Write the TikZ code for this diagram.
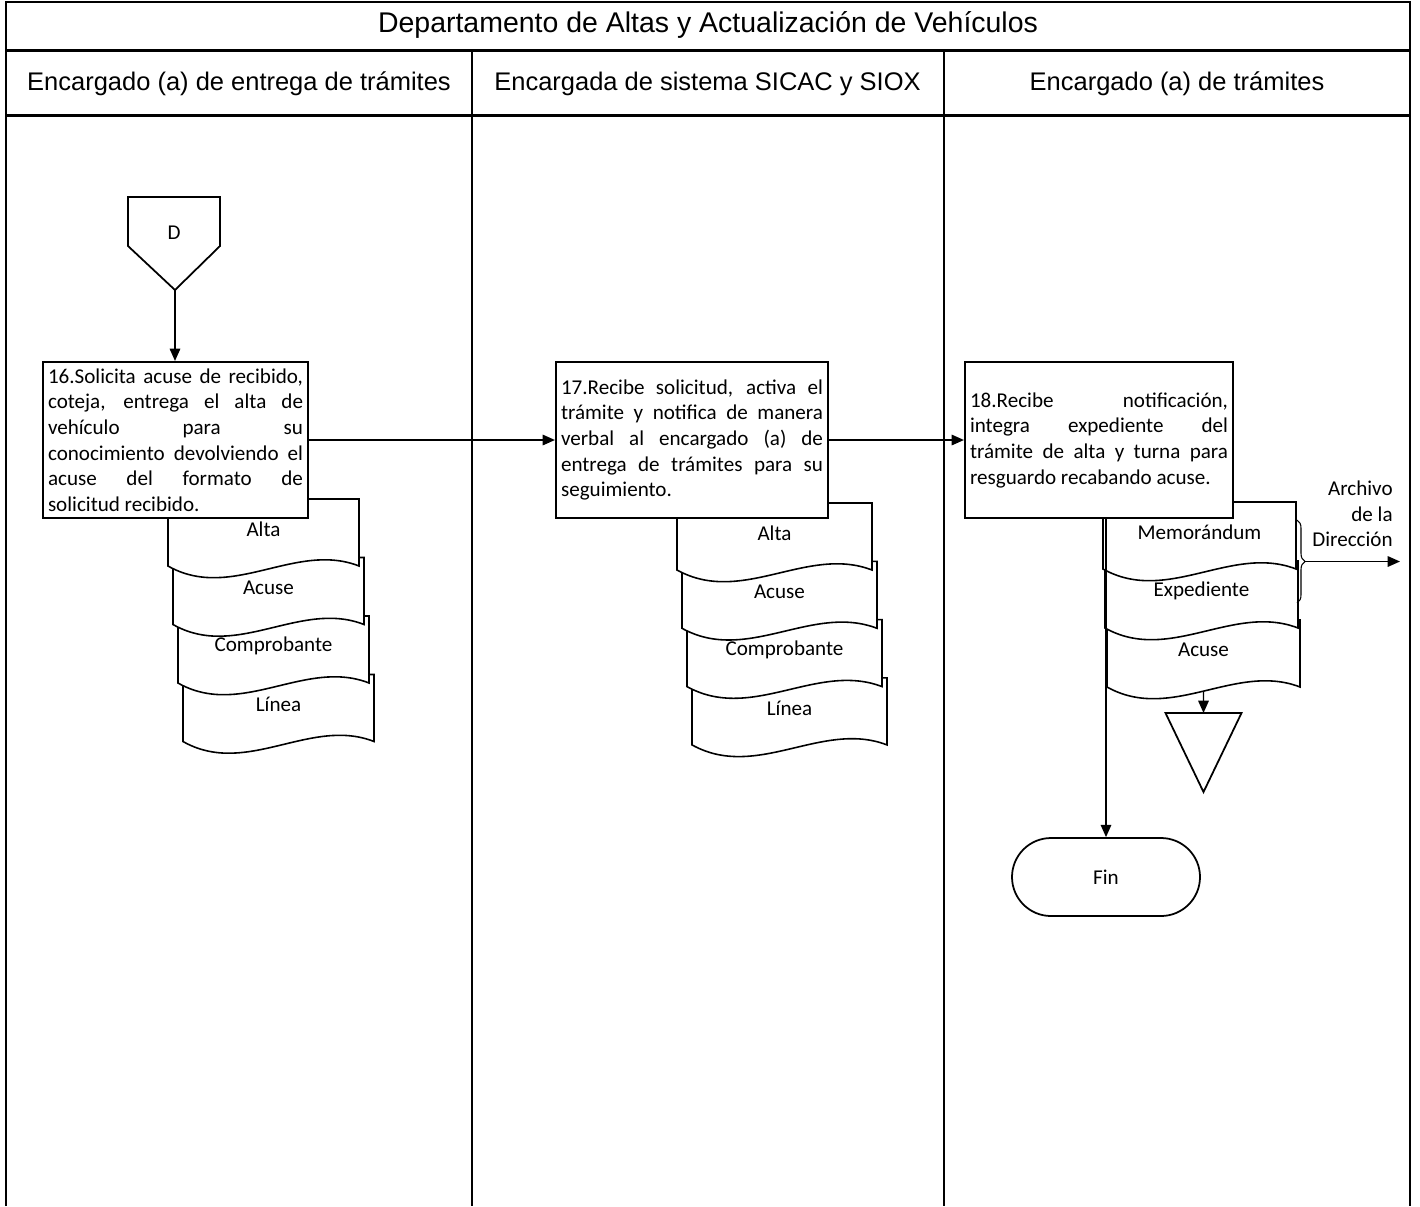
\documentclass[tikz,border=0pt]{standalone}
\usepackage{fontspec}
\setmainfont{Carlito}
\newfontfamily\arialfont{Liberation Sans}
\usepackage{tikz}
\usetikzlibrary{positioning, arrows.meta, calc, decorations.pathreplacing}
\def\dh{1.34}
\tikzset{
  frameline/.style={line width=1.2pt, black},
  sepline/.style={line width=1.7pt, black},
  titletxt/.style={font=\arialfont\fontsize{16.2}{19}\selectfont, inner sep=0pt},
  lanehead/.style={font=\arialfont\fontsize{14.5}{17}\selectfont, inner sep=0pt},
  actbox/.style={draw, line width=1.2pt, fill=white, align=justify, inner xsep=0.1cm, inner ysep=0.05cm,
    minimum height=3.12cm, font=\fontsize{12}{14.6}\selectfont},
  docline/.style={draw, line width=0.9pt, fill=white},
  doctxt/.style={font=\fontsize{12}{14.6}\selectfont, inner sep=0pt},
  flow/.style={-{Triangle[length=7pt,width=6pt]}, line width=0.8pt},
  finbox/.style={draw, line width=1pt, rounded corners=0.78cm, minimum width=3.76cm, minimum height=1.56cm,
    font=\fontsize{12}{14.6}\selectfont},
  shapeline/.style={line width=1pt},
}

\begin{document}
\begin{tikzpicture}
  \useasboundingbox (0,0) rectangle (28.4,-24.12);
  \draw[frameline] (0.12,-24.12) -- (0.12,-0.04) -- (28.2,-0.04) -- (28.2,-24.12);
  \draw[sepline] (0.12,-1) -- (28.2,-1);
  \draw[sepline] (0.12,-2.3) -- (28.2,-2.3);
  \draw[frameline] (9.44,-1) -- (9.44,-24.12);
  \draw[frameline] (18.88,-1) -- (18.88,-24.12);
  \node[titletxt] (title) at (14.16,-0.5) {Departamento de Altas y Actualización de Vehículos};
  \node[lanehead] (hd1) at (4.78,-1.68) {Encargado (a) de entrega de trámites};
  \node[lanehead] (hd2) at (14.15,-1.68) {Encargada de sistema SICAC y SIOX};
  \node[lanehead] (hd3) at (23.54,-1.68) {Encargado (a) de trámites};

  \foreach \i/\t in {3/Línea,2/Comprobante,1/Acuse,0/Alta} {
    \pgfmathsetmacro\x{3.36+0.1*\i}
    \pgfmathsetmacro\y{-9.98-1.17*\i}
    \draw[docline] (\x,\y-\dh) -- (\x,\y) -- (\x+3.82,\y) -- (\x+3.82,\y-\dh)
      .. controls +(-1.27,0.5) and +(1.27,-0.72) .. (\x,\y-\dh) -- cycle;
    \node[doctxt] (docA\i) at (\x+1.91,\y-0.6) {\t};
  }
  \foreach \i/\t in {3/Línea,2/Comprobante,1/Acuse,0/Alta} {
    \pgfmathsetmacro\x{13.54+0.1*\i}
    \pgfmathsetmacro\y{-10.06-1.166*\i}
    \draw[docline] (\x,\y-\dh) -- (\x,\y) -- (\x+3.9,\y) -- (\x+3.9,\y-\dh)
      .. controls +(-1.3,0.5) and +(1.3,-0.72) .. (\x,\y-\dh) -- cycle;
    \node[doctxt] (docB\i) at (\x+1.95,\y-0.6) {\t};
  }
  \foreach \i/\t in {2/Acuse,1/Expediente,0/Memorándum} {
    \pgfmathsetmacro\x{22.06+0.04*\i}
    \pgfmathsetmacro\y{-10.04-1.18*\i}
    \draw[docline] (\x,\y-\dh) -- (\x,\y) -- (\x+3.86,\y) -- (\x+3.86,\y-\dh)
      .. controls +(-1.29,0.5) and +(1.29,-0.72) .. (\x,\y-\dh) -- cycle;
    \node[doctxt] (docC\i) at (\x+1.93,\y-0.6) {\t};
    \coordinate (docC\i b) at (\x+1.93,\y-\dh-0.08);
  }

  \node[font=\fontsize{12}{14}\selectfont] (conD) at (3.48,-4.66) {D};
  \draw[shapeline] (2.56,-3.94) -- (4.4,-3.94) -- (4.4,-4.92) -- (3.5,-5.8) -- (2.56,-4.92) -- cycle;
  \coordinate (conDtip) at (3.5,-5.8);

  \node[actbox, text width=5.1cm] (b16) at (3.51,-8.8) {16.Solicita acuse de recibido,\linebreak
    coteja, entrega el alta de\linebreak vehículo para su\linebreak conocimiento devolviendo el\linebreak
    acuse del formato de\linebreak solicitud recibido.};
  \node[actbox, text width=5.24cm] (b17) at (13.84,-8.8) {17.Recibe solicitud, activa el\linebreak
    trámite y notifica de manera\linebreak verbal al encargado (a) de\linebreak
    entrega de trámites para su\linebreak seguimiento.};
  \node[actbox, text width=5.16cm] (b18) at (21.98,-8.8) {18.Recibe notificación,\linebreak
    integra expediente del\linebreak trámite de alta y turna para\linebreak resguardo recabando acuse.};

  \node[finbox] (fin) at (22.12,-17.54) {Fin};
  \coordinate (tri) at (24.07,-14.26);
  \draw[shapeline] ($(tri)+(-0.76,0)$) -- ($(tri)+(0.76,0)$) -- ($(tri)+(0,-1.58)$) -- cycle;

  \draw[decorate, decoration={brace, amplitude=0.16cm}, line width=0.6pt] (25.94,-10.4) -- (25.94,-12.06);
  \coordinate (brc) at (26.1,-11.23);
  \coordinate (arc) at (28.0,-11.23);
  \node[doctxt, align=right, anchor=east] (archivo) at (27.86,-10.28) {Archivo\\de la\\Dirección};

  \draw[flow] (conDtip) -- (conDtip |- b16.north);
  \draw[flow] (b16.east) -- (b17.west);
  \draw[flow] (b17.east) -- (b18.west);
  \draw[flow] (b18.south -| fin.north) -- (fin.north);
  \draw[flow] (docC2b) -- (tri);
  \draw[flow] (brc) -- (arc);
\end{tikzpicture}
\end{document}
